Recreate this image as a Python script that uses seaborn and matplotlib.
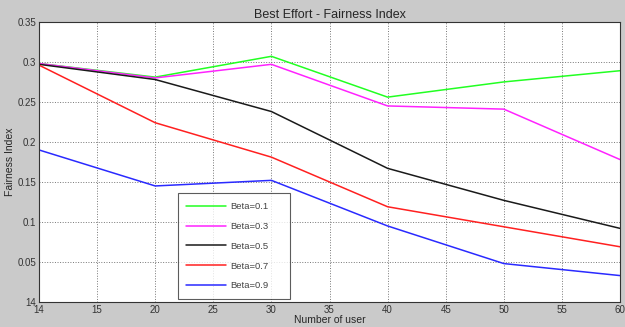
import pandas as pd
import matplotlib
matplotlib.use('Agg')
import matplotlib.pyplot as plt
import seaborn as sns

# donnees
users = [10, 20, 30, 40, 50, 60]
beta_01 = [0.298, 0.281, 0.307, 0.256, 0.275, 0.289]
beta_03 = [0.298, 0.280, 0.297, 0.245, 0.241, 0.178]
beta_05 = [0.297, 0.278, 0.238, 0.167, 0.127, 0.092]
beta_07 = [0.296, 0.224, 0.181, 0.119, 0.094, 0.069]
beta_09 = [0.190, 0.145, 0.152, 0.095, 0.048, 0.033]
labels = ['Beta=0.1', 'Beta=0.3', 'Beta=0.5', 'Beta=0.7', 'Beta=0.9']
x_ticks = [10, 15, 20, 25, 30, 35, 40, 45, 50, 55, 60]
x_tick_labels = ['14', '15', '20', '25', '30', '35', '40', '45', '50', '55', '60']
y_ticks = [0, 0.05, 0.1, 0.15, 0.2, 0.25, 0.3, 0.35]
y_tick_labels = ['14', '0.05', '0.1', '0.15', '0.2', '0.25', '0.3', '0.35']
colors = ['#22ff22', '#ff22ff', '#1a1a1a', '#ff2020', '#2a2aff']

rows = []
for lab, vals in zip(labels, [beta_01, beta_03, beta_05, beta_07, beta_09]):
    for u, v in zip(users, vals):
        rows.append({'Users': u, 'Fairness': v, 'Beta': lab})
df = pd.DataFrame(rows)

sns.set_style('white')
plt.rcParams['font.family'] = ['Liberation Sans', 'DejaVu Sans']

fig = plt.figure(figsize=(6.25, 3.27), dpi=100, facecolor='#cacaca')
ax = fig.add_axes([0.0624, 0.0765, 0.9296, 0.8565])
ax.set_facecolor('white')

sns.lineplot(data=df, x='Users', y='Fairness', hue='Beta', palette=colors,
             linewidth=1.1, ax=ax)

ax.set_xlim(10, 60)
ax.set_ylim(0, 0.35)
ax.set_xticks(x_ticks)
ax.set_xticklabels(x_tick_labels)
ax.set_yticks(y_ticks)
ax.set_yticklabels(y_tick_labels)
ax.tick_params(direction='in', length=3, labelsize=7, colors='#333333', pad=2)
ax.grid(True, linestyle=':', color='#777777', linewidth=0.7)
for s in ax.spines.values():
    s.set_color('#333333')
    s.set_linewidth(0.8)

ax.set_title('Best Effort - Fairness Index', fontsize=9, pad=3)
ax.set_xlabel('Number of user', fontsize=7.5, labelpad=0)
ax.set_ylabel('Fairness Index', fontsize=7.5, labelpad=2)

leg = ax.legend(loc='lower left', bbox_to_anchor=(0.239, 0.011, 0.193, 0.36),
                mode='expand', fontsize=6.8,
                frameon=True, fancybox=False, edgecolor='#333333',
                handlelength=4.2, labelspacing=1.15, borderpad=0.9,
                handletextpad=0.5, borderaxespad=0)
leg.get_frame().set_linewidth(0.8)
for t in leg.get_texts():
    t.set_color('#444444')

fig.savefig('out.png', dpi=100, facecolor=fig.get_facecolor())
